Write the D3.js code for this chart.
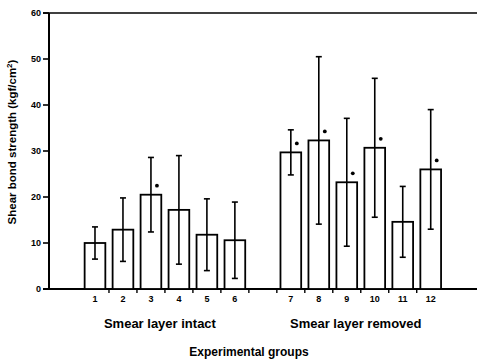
<!DOCTYPE html>
<html>
<head>
<meta charset="utf-8">
<script src="https://cdn.jsdelivr.net/npm/d3@7"></script>
<style>
  body { margin: 0; background: #fff; }
  text { font-family: Arial, "Liberation Sans", sans-serif; font-weight: bold; fill: #000; }
</style>
</head>
<body>
<div id="chart"></div>
<script>
// group labels, mean shear bond strength and SD (kgf/cm2)
const groups = ['1', '2', '3', '4', '5', '6', '7', '8', '9', '10', '11', '12'];
const means = [10, 12.9, 20.5, 17.2, 11.8, 10.6, 29.7, 32.3, 23.2, 30.7, 14.6, 26.0];
const sds = [3.5, 6.9, 8.1, 11.8, 7.8, 8.3, 4.9, 18.2, 13.9, 15.1, 7.7, 13.0];
const significant = ['3', '7', '8', '9', '10', '12'];
const yTicks = [0, 10, 20, 30, 40, 50, 60];
const setLabels = ['Smear layer intact', 'Smear layer removed'];
const setGroups = [groups.slice(0, 6), groups.slice(6)];

const width = 477, height = 361;

const svg = d3.select('#chart')
  .append('svg')
  .attr('width', width)
  .attr('height', height);

// one empty slot between the two sets of groups
const slots = [...groups.slice(0, 6), 'gap', ...groups.slice(6)];
const x = d3.scaleBand()
  .domain(slots)
  .range([81, 444.7])
  .padding(0);
const step = x.step();
const barW = step * 0.74;

const y = d3.scaleLinear()
  .domain([0, 60])
  .range([289, 13]);

const data = groups.map((g, i) => ({ g, mean: means[i], sd: sds[i] }));

// axis lines
svg.append('line')
  .attr('x1', 49).attr('x2', 49)
  .attr('y1', y(60)).attr('y2', y(0))
  .attr('stroke', '#000').attr('stroke-width', 2);
svg.append('line')
  .attr('x1', 43).attr('x2', width)
  .attr('y1', y(0)).attr('y2', y(0))
  .attr('stroke', '#000').attr('stroke-width', 2);
svg.append('line')
  .attr('x1', 43).attr('x2', width)
  .attr('y1', y(60)).attr('y2', y(60))
  .attr('stroke', '#000').attr('stroke-width', 1.6);

// y ticks
const yAxis = svg.append('g');
yAxis.selectAll('line.tick')
  .data(yTicks)
  .enter().append('line')
  .attr('x1', 43).attr('x2', 49)
  .attr('y1', d => y(d)).attr('y2', d => y(d))
  .attr('stroke', '#000').attr('stroke-width', 1.6);
yAxis.selectAll('text')
  .data(yTicks)
  .enter().append('text')
  .attr('x', 41)
  .attr('y', d => y(d) + 3)
  .attr('text-anchor', 'end')
  .attr('font-size', 9)
  .text(d => d);

// x ticks on slot boundaries (all but the last slot)
svg.append('g').selectAll('line')
  .data(slots.slice(0, -1))
  .enter().append('line')
  .attr('x1', d => x(d) + step).attr('x2', d => x(d) + step)
  .attr('y1', y(0)).attr('y2', y(0) + 4)
  .attr('stroke', '#000').attr('stroke-width', 1.4);

svg.append('g').selectAll('text')
  .data(groups)
  .enter().append('text')
  .attr('x', d => x(d) + step / 2)
  .attr('y', 302)
  .attr('text-anchor', 'middle')
  .attr('font-size', 9)
  .text(d => d);

// bars
const bars = svg.append('g');
bars.selectAll('rect')
  .data(data)
  .enter().append('rect')
  .attr('x', d => x(d.g) + (step - barW) / 2)
  .attr('y', d => y(d.mean))
  .attr('width', barW)
  .attr('height', d => y(0) - y(d.mean))
  .attr('fill', '#fff')
  .attr('stroke', '#000')
  .attr('stroke-width', 1.8);

// error bars
const err = svg.append('g').attr('stroke', '#000').attr('stroke-width', 1.6);
err.selectAll('line.v')
  .data(data)
  .enter().append('line')
  .attr('x1', d => x(d.g) + step / 2).attr('x2', d => x(d.g) + step / 2)
  .attr('y1', d => y(d.mean + d.sd)).attr('y2', d => y(d.mean - d.sd));
['top', 'bottom'].forEach(side => {
  err.selectAll('line.' + side)
    .data(data)
    .enter().append('line')
    .attr('x1', d => x(d.g) + step / 2 - 3).attr('x2', d => x(d.g) + step / 2 + 3)
    .attr('y1', d => y(side === 'top' ? d.mean + d.sd : d.mean - d.sd))
    .attr('y2', d => y(side === 'top' ? d.mean + d.sd : d.mean - d.sd));
});

// significance marks
svg.append('g').selectAll('circle')
  .data(data.filter(d => significant.includes(d.g)))
  .enter().append('circle')
  .attr('cx', d => x(d.g) + step / 2 + 6)
  .attr('cy', d => y(d.mean) - 9)
  .attr('r', 1.9)
  .attr('fill', '#000');

// set labels under the axis
svg.append('g').selectAll('text')
  .data(setLabels)
  .enter().append('text')
  .attr('x', (d, i) => {
    const gs = setGroups[i];
    return (x(gs[0]) + x(gs[gs.length - 1]) + step) / 2 - 5;
  })
  .attr('y', 328)
  .attr('text-anchor', 'middle')
  .attr('font-size', 13)
  .text(d => d);

svg.append('text')
  .attr('x', 249)
  .attr('y', 356)
  .attr('text-anchor', 'middle')
  .attr('font-size', 12)
  .text('Experimental groups');

// y axis title
const yTitle = svg.append('text')
  .attr('transform', 'translate(16,142) rotate(-90)')
  .attr('text-anchor', 'middle')
  .attr('font-size', 11.5);
yTitle.append('tspan').text('Shear bond strength (kgf/cm');
yTitle.append('tspan').attr('font-size', 8).attr('dy', -4).text('2');
yTitle.append('tspan').attr('dy', 4).text(')');
</script>
</body>
</html>
